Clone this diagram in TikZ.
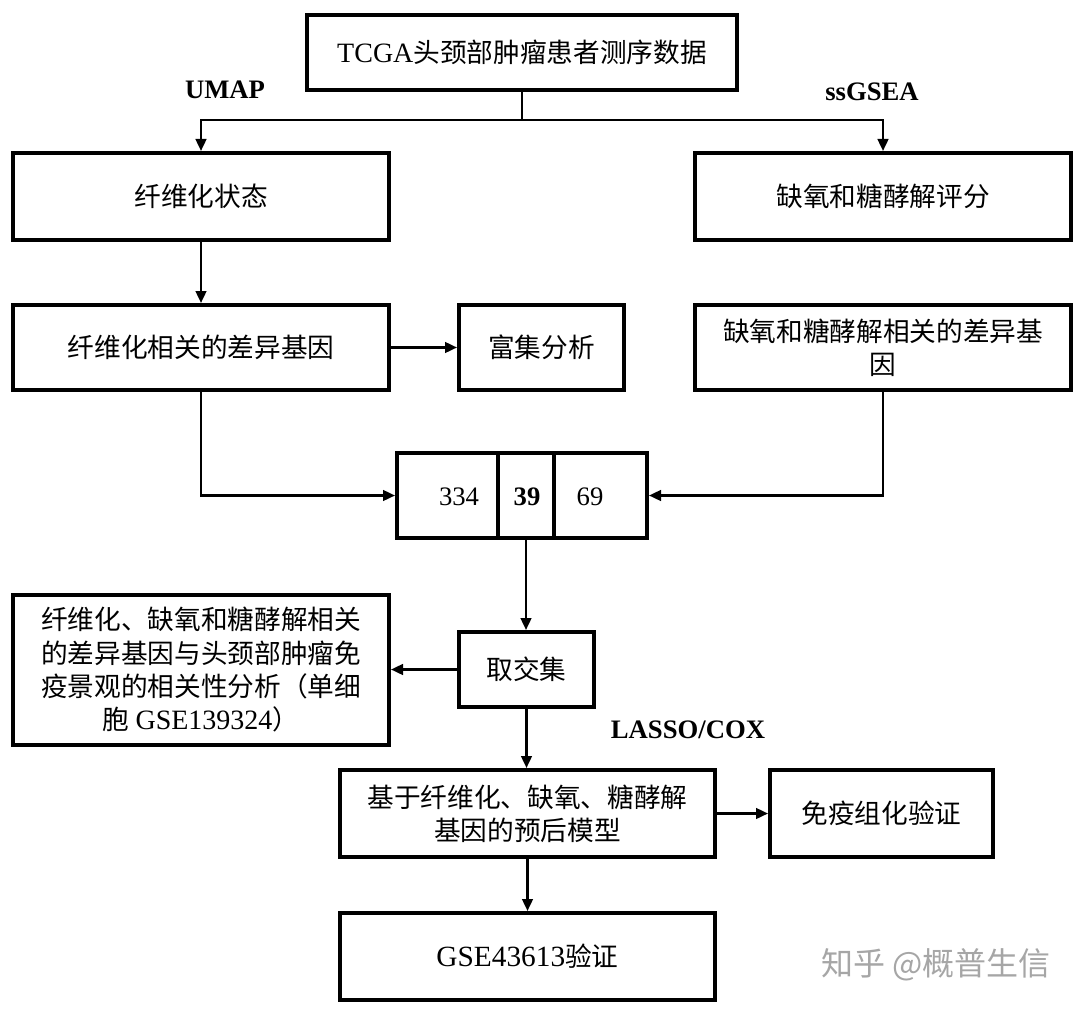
\documentclass[tikz,border=0pt]{standalone}
\usepackage{fontspec}
\setmainfont{Liberation Serif}
\newfontfamily\cjk{Noto Sans CJK SC}
\newfontfamily\latin{Liberation Serif}
\usetikzlibrary{arrows.meta}
\begin{document}
\begin{tikzpicture}[x=0.75pt,y=-0.75pt,
  box/.style={draw=black, line width=3pt, fill=white, inner sep=0pt, align=center,
    font=\cjk\fontsize{20}{25}\selectfont},
  cell/.style={draw=black, line width=3pt, inner sep=0pt, minimum height=63.75pt},
  conn/.style={line width=1.8pt},
  arr/.style={conn, -{Triangle[length=9pt,width=8pt]}},
  lbl/.style={font=\latin\bfseries\fontsize{20}{24}\selectfont, inner sep=0pt},
  num/.style={font=\latin\fontsize{20}{24}\selectfont, inner sep=0pt}]
\useasboundingbox (0,0) rectangle (1080,1009);
\fill[white] (0,0) rectangle (1080,1009);
% boxes
\node[box, minimum width=322.5pt, minimum height=56.25pt] (A) at (522,52.5) {{\latin\fontsize{21}{25}\selectfont TCGA}头颈部肿瘤患者测序数据};
\node[box, minimum width=282pt, minimum height=65.25pt] (B) at (201,196.5) {纤维化状态};
\node[box, minimum width=282pt, minimum height=65.25pt] (C) at (883,196.5) {缺氧和糖酵解评分};
\node[box, minimum width=282pt, minimum height=63.75pt] (D) at (201,347.5) {纤维化相关的差异基因};
\node[box, minimum width=123.75pt, minimum height=63.75pt] (E) at (541.5,347.5) {富集分析};
\node[box, minimum width=282pt, minimum height=63.75pt] (F) at (883,347.5) {缺氧和糖酵解相关的差异基\\因};
\node[cell, minimum width=75.75pt] (g1) at (447.5,495.5) {};
\node[cell, minimum width=42pt] (g2) at (526,495.5) {};
\node[cell, minimum width=69.75pt] (g3) at (600.5,495.5) {};
\node[num] (n1) at (459,497) {334};
\node[num, font=\latin\bfseries\fontsize{20}{24}\selectfont] (n2) at (527,497) {39};
\node[num] (n3) at (590,497) {69};
\node[box, minimum width=101.25pt, minimum height=56.25pt] (H) at (526.5,669.5) {取交集};
\node[box, minimum width=282pt, minimum height=112.5pt] (I) at (201,670) {纤维化、缺氧和糖酵解相关\\的差异基因与头颈部肿瘤免\\疫景观的相关性分析（单细\\胞 {\latin\fontsize{21}{25}\selectfont GSE139324}）};
\node[box, minimum width=281.25pt, minimum height=65.25pt] (J) at (527.5,813.5) {基于纤维化、缺氧、糖酵解\\基因的预后模型};
\node[box, minimum width=167.25pt, minimum height=65.25pt] (K) at (881.5,813.5) {免疫组化验证};
\node[box, minimum width=281.25pt, minimum height=65.25pt] (L) at (527.5,956.5) {{\latin\fontsize{22}{25}\selectfont GSE43613}验证};
% labels
\node[lbl] (umap) at (225,90) {UMAP};
\node[lbl] (ssg) at (872,92) {ssGSEA};
\node[lbl] (lasso) at (688,730) {LASSO/COX};
\node[font=\cjk\fontsize{24}{28}\selectfont, text=black!35, inner sep=0pt] (wm) at (936,965) {知乎 @概普生信};
% connectors
\coordinate (split) at (522,120);
\draw[conn] (A.south) -- (split);
\draw[arr] (split) -| (B.north);
\draw[arr] (split) -| (C.north);
\draw[arr] (B.south) -- (D.north);
\draw[arr] (D.east) -- (E.west);
\draw[arr] (D.south) |- (g1.west);
\draw[arr] (F.south) |- (g3.east);
\draw[arr] (g2.south) -- (g2.south |- H.north);
\draw[arr] (H.west) -- (H.west -| I.east);
\draw[arr] (H.south) -- (H.south |- J.north);
\draw[arr] (J.east) -- (K.west);
\draw[arr] (J.south) -- (L.north);
\end{tikzpicture}
\end{document}
